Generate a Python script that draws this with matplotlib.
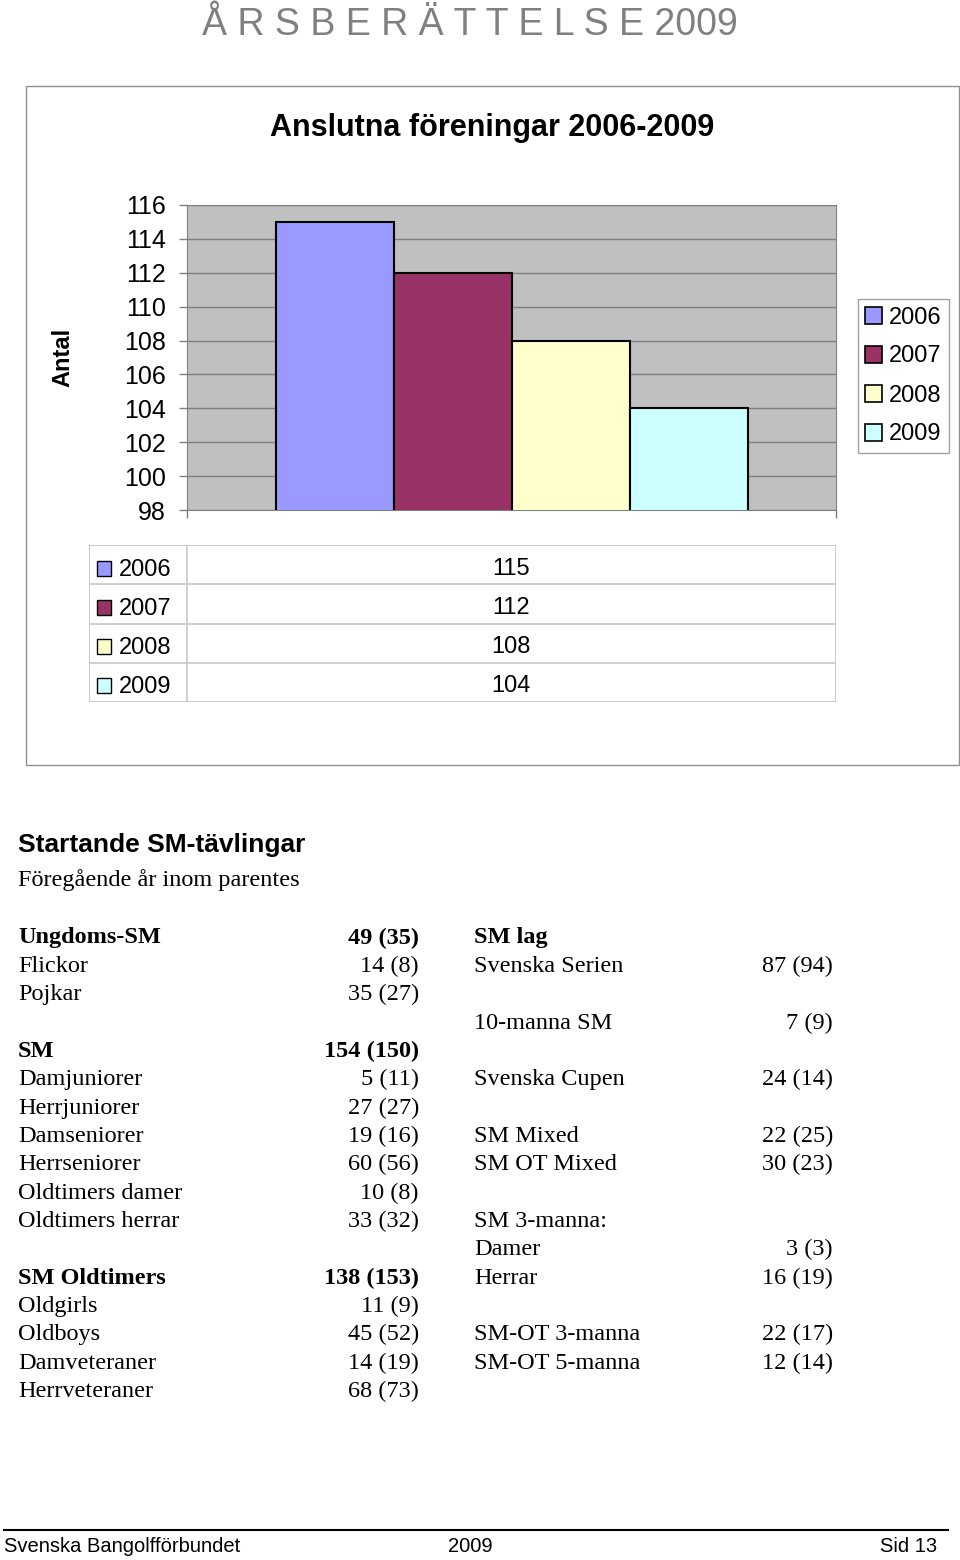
import matplotlib
matplotlib.use('Agg')
import matplotlib.pyplot as plt
from matplotlib.patches import Rectangle

# chart data
years = ['2006', '2007', '2008', '2009']
clubs = [115, 112, 108, 104]
year_colors = ['#9999FF', '#993366', '#FFFFCC', '#CCFFFF']
y_ticks = list(range(98, 117, 2))

# SM starts, left column
left_names = ['Ungdoms-SM', 'Flickor', 'Pojkar', '', 'SM', 'Damjuniorer', 'Herrjuniorer',
              'Damseniorer', 'Herrseniorer', 'Oldtimers damer', 'Oldtimers herrar', '',
              'SM Oldtimers', 'Oldgirls', 'Oldboys', 'Damveteraner', 'Herrveteraner']
left_now = [49, 14, 35, None, 154, 5, 27, 19, 60, 10, 33, None, 138, 11, 45, 14, 68]
left_prev = [35, 8, 27, None, 150, 11, 27, 16, 56, 8, 32, None, 153, 9, 52, 19, 73]
left_bold = [0, 4, 12]

# SM starts, right column
right_names = ['SM lag', 'Svenska Serien', '', '10-manna SM', '', 'Svenska Cupen', '',
               'SM Mixed', 'SM OT Mixed', '', 'SM 3-manna:', 'Damer', 'Herrar', '',
               'SM-OT 3-manna', 'SM-OT 5-manna']
right_now = [None, 87, None, 7, None, 24, None, 22, 30, None, None, 3, 16, None, 22, 12]
right_prev = [None, 94, None, 9, None, 14, None, 25, 23, None, None, 3, 19, None, 17, 14]
right_bold = [0]

W, H = 960, 1560
SANS = 'Liberation Sans'
SERIF = 'Liberation Serif'


def box(x0, y0, x1, y1):
    return [x0 / W, 1 - y1 / H, (x1 - x0) / W, (y1 - y0) / H]


fig = plt.figure(figsize=(W / 100, H / 100), dpi=100)

# page overlay in pixel coordinates
pg = fig.add_axes([0, 0, 1, 1])
pg.set_xlim(0, W)
pg.set_ylim(H, 0)
pg.axis('off')

pg.text(470, 25, 'Å R S B E R Ä T T E L S E 2009', ha='center', va='center',
        family=SANS, size=27, color='#808080')
pg.add_patch(Rectangle((26, 86), 933, 679, fill=False, ec='#909090', lw=1))
pg.text(492, 128, 'Anslutna föreningar 2006-2009', ha='center', va='center',
        family=SANS, size=22, weight='bold')
pg.text(63, 357, 'Antal', rotation=90, ha='center', va='center',
        family=SANS, size=17, weight='bold')

# bar chart
ax = fig.add_axes(box(187, 205, 836, 510))
ax.set_facecolor('#C0C0C0')
for i, (yr, val, col) in enumerate(zip(years, clubs, year_colors)):
    ax.bar(i, val, width=1, color=col, edgecolor='black', lw=1.5, label=yr, zorder=3)
ax.set_ylim(98, 116)
ax.set_xlim(-1.25, 4.25)
ax.set_yticks(y_ticks)
ax.yaxis.grid(True, color='#808080', lw=1)
ax.set_axisbelow(True)
ax.set_xticks([-1.25, 4.25])
ax.set_xticklabels([])
for s in ax.spines.values():
    s.set_color('#808080')
ax.tick_params(axis='both', length=6, color='#808080', width=1)
ax.tick_params(axis='y', labelsize=18, pad=9)
for lab in ax.get_yticklabels():
    lab.set_family(SANS)

leg = ax.legend(loc='center', bbox_to_anchor=(903.5 / W, 1 - 376 / H),
                bbox_transform=fig.transFigure, prop={'family': SANS, 'size': 17},
                handlelength=0.7, handleheight=0.7, handletextpad=0.3,
                labelspacing=0.72, borderpad=0.3, fancybox=False,
                edgecolor='#A0A0A0', framealpha=1)
leg.get_frame().set_linewidth(1)
for h in leg.legend_handles:
    h.set_linewidth(1.2)

# data table below the chart
tb = fig.add_axes(box(89, 545, 836, 702))
tb.set_xlim(89, 836)
tb.set_ylim(len(years), 0)
tb.axis('off')
tb.add_patch(Rectangle((89, 0), 747, len(years), fill=False, ec='#C0C0C0', lw=1.2))
for r in range(1, len(years)):
    tb.axhline(r, color='#C8C8C8', lw=1.2)
tb.axvline(187, color='#C8C8C8', lw=1.2)
for r, (yr, val, col) in enumerate(zip(years, clubs, year_colors)):
    tb.add_patch(Rectangle((97, r + 0.4), 14, 0.38, fc=col, ec='black', lw=1))
    tb.text(119, r + 0.63, yr, va='center', ha='left', family=SANS, size=17)
    tb.text(511, r + 0.6, str(val), va='center', ha='center', family=SANS, size=17)

# SM competitions text
pg.text(18, 845, 'Startande SM-tävlingar', va='center', ha='left',
        family=SANS, size=19, weight='bold')
pg.text(18, 880, 'Föregående år inom parentes', va='center', ha='left',
        family=SERIF, size=17.5)

row_h = 28.35
for i, name in enumerate(left_names):
    y = 938 + i * row_h
    w = 'bold' if i in left_bold else 'normal'
    pg.text(18, y, name, va='center', ha='left', family=SERIF, size=17.5, weight=w)
    if left_now[i] is not None:
        pg.text(419, y, f'{left_now[i]} ({left_prev[i]})', va='center', ha='right',
                family=SERIF, size=17.5, weight=w)
for i, name in enumerate(right_names):
    y = 938 + i * row_h
    w = 'bold' if i in right_bold else 'normal'
    pg.text(474, y, name, va='center', ha='left', family=SERIF, size=17.5, weight=w)
    if right_now[i] is not None:
        pg.text(833, y, f'{right_now[i]} ({right_prev[i]})', va='center', ha='right',
                family=SERIF, size=17.5, weight=w)

# footer
pg.plot([4, 948], [1530, 1530], color='black', lw=1.5)
pg.text(4, 1547, 'Svenska Bangolfförbundet', va='center', ha='left', family=SANS, size=14.5)
pg.text(470, 1547, '2009', va='center', ha='center', family=SANS, size=14.5)
pg.text(937, 1547, 'Sid 13', va='center', ha='right', family=SANS, size=14.5)

fig.savefig('out.png', dpi=100)
